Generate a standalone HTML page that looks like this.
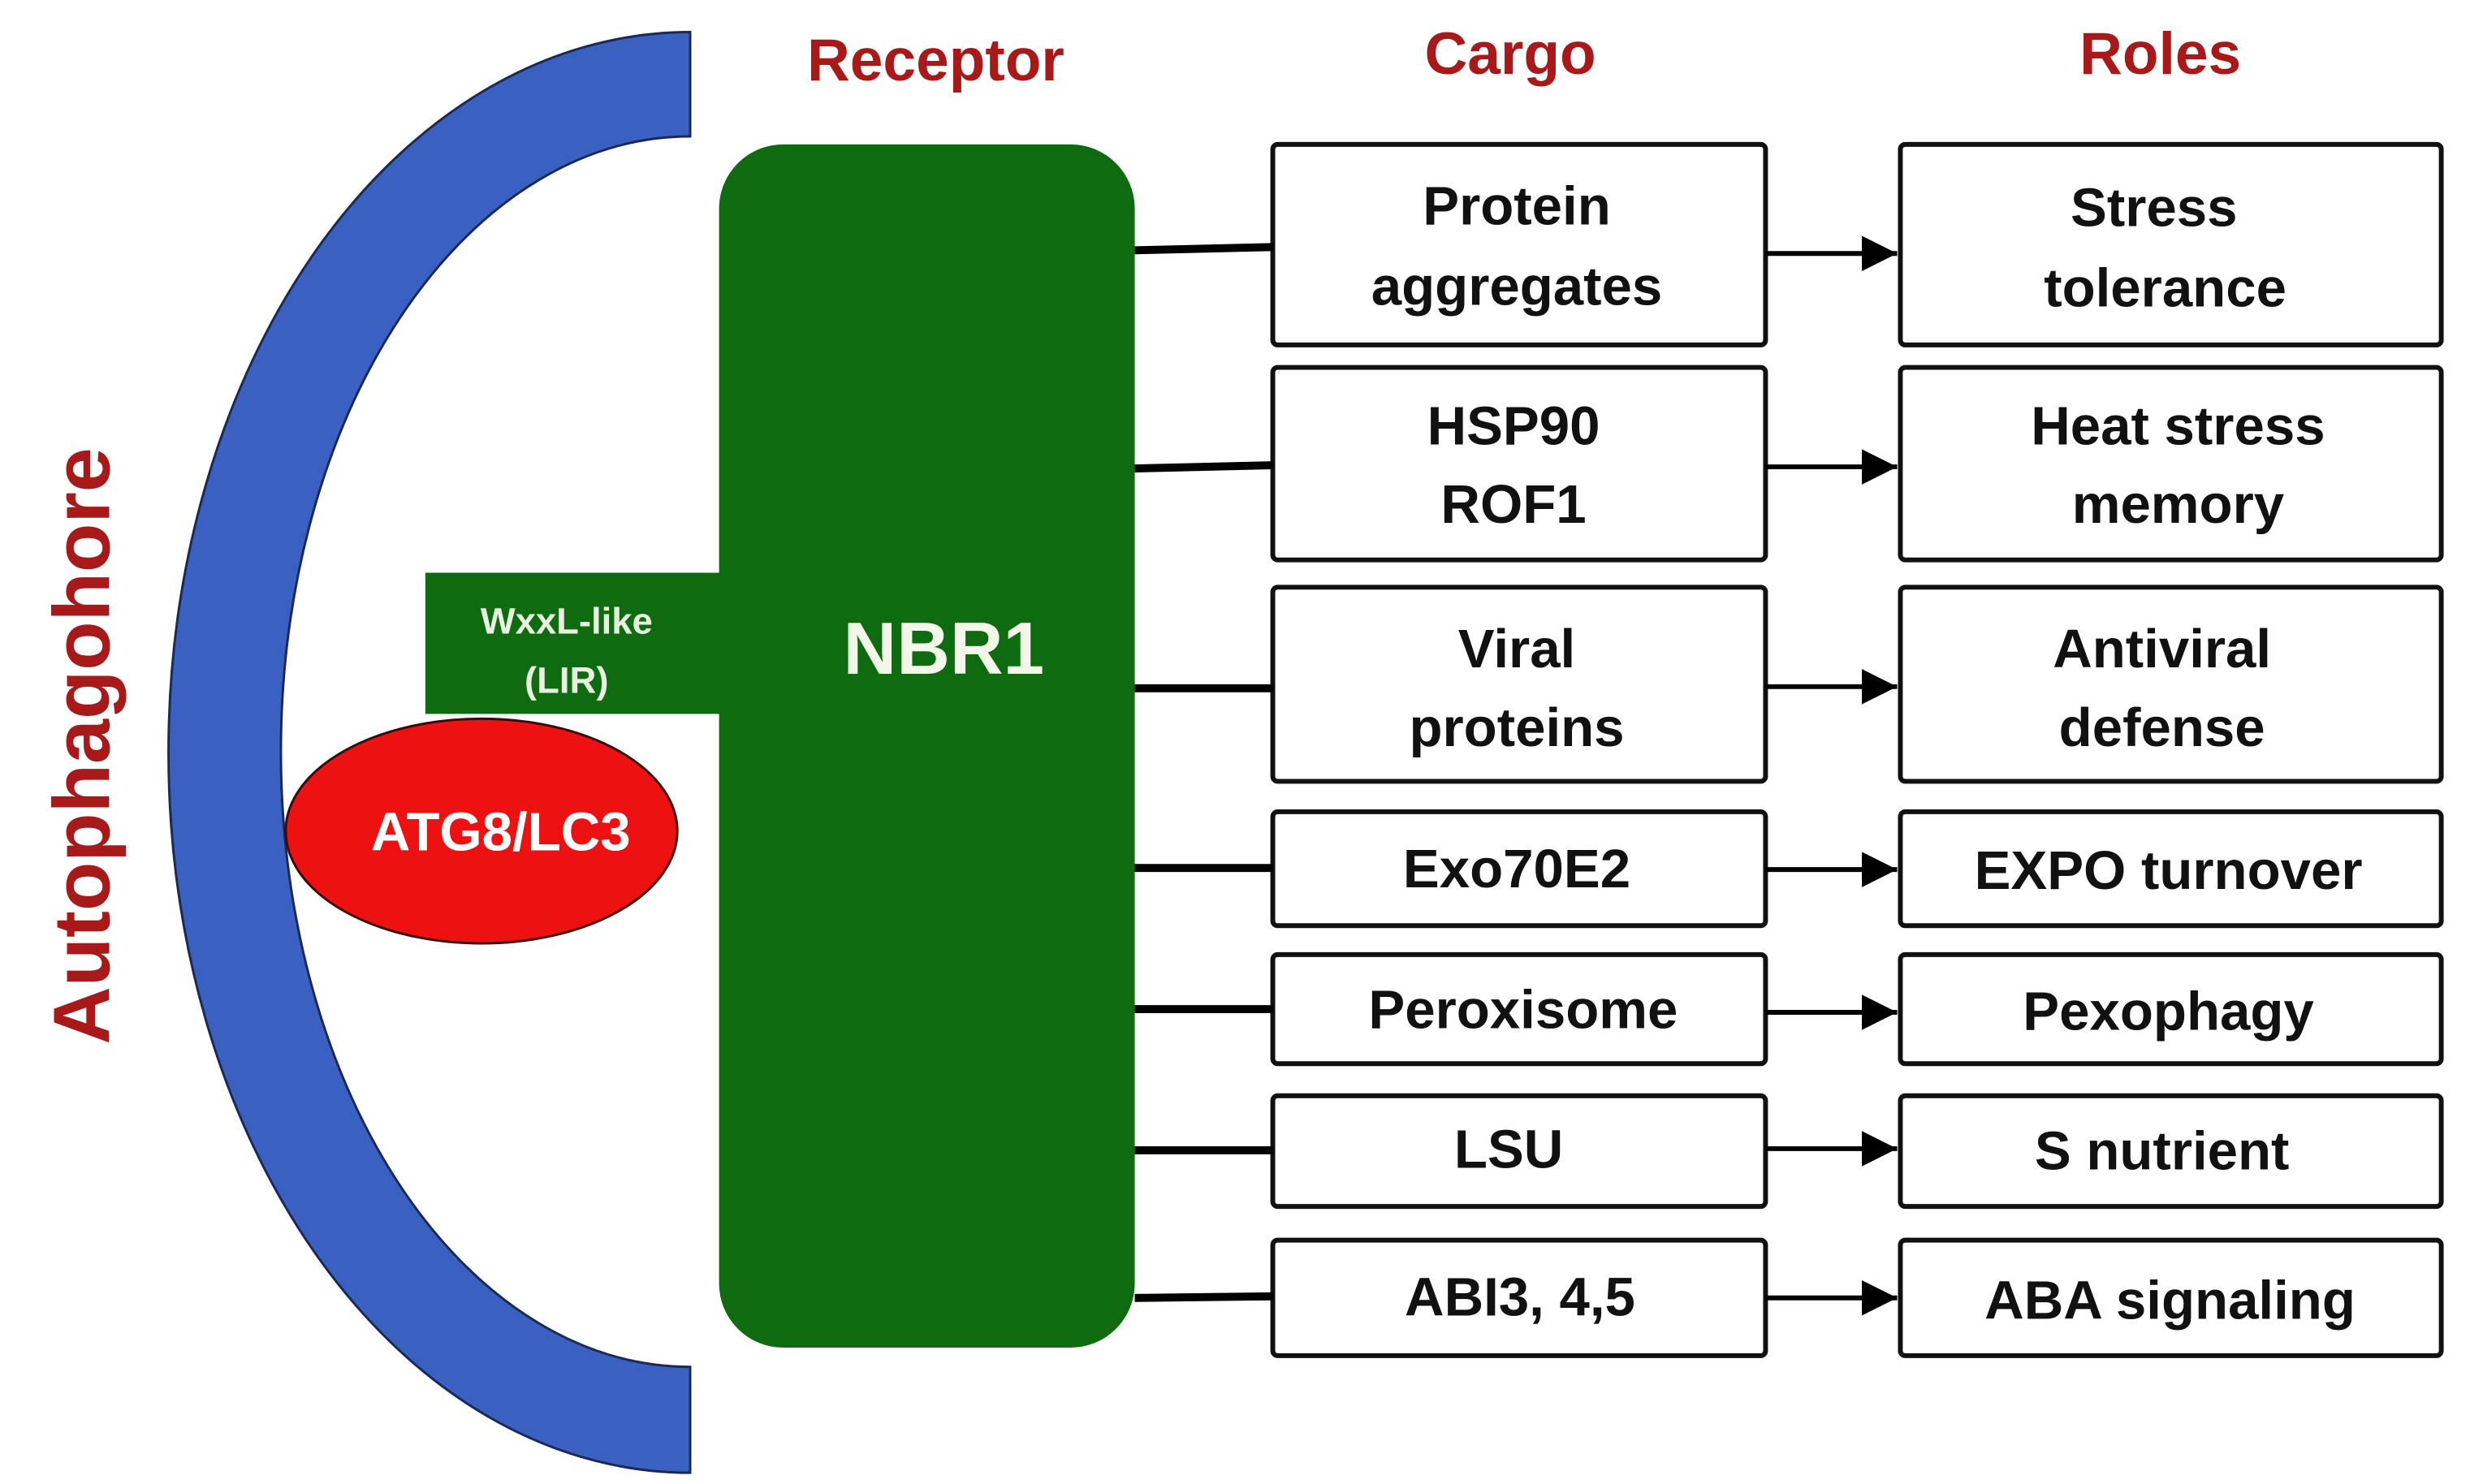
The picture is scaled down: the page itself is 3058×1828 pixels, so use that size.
<!DOCTYPE html>
<html><head><meta charset="utf-8"><style>html,body{margin:0;padding:0;background:#fff}svg{display:block}</style></head>
<body>
<svg width="3058" height="1828" viewBox="0 0 1547 925" preserveAspectRatio="none" xmlns="http://www.w3.org/2000/svg" font-family="Liberation Sans, Arial, sans-serif" font-weight="bold">
<defs><marker id="ah" markerWidth="10" markerHeight="10" refX="9" refY="5" orient="auto" markerUnits="userSpaceOnUse"><path d="M0,0 L24,5 L0,10 Z" transform="scale(0.42,1)"/></marker>
<marker id="a2" viewBox="0 0 10 10" refX="10" refY="5" markerWidth="24" markerHeight="22" markerUnits="userSpaceOnUse" orient="auto"><path d="M0,0 L10,5 L0,10 Z" fill="#000"/></marker></defs>
<path d="M430,20 A325,449 0 0 0 430,918 L430,852 A255,383.5 0 0 1 430,85 Z" fill="#3a60c2" stroke="#1a2a55" stroke-width="1.5"/>
<text transform="translate(68,465) rotate(-90)" text-anchor="middle" font-size="50" fill="#a81a1a">Autophagohore</text>
<rect x="265" y="357" width="200" height="88" fill="#0f6b0f"/>
<rect x="448" y="90" width="259" height="750" rx="40" fill="#0f6b0f"/>
<text x="353" y="395" text-anchor="middle" font-size="23" fill="#e8f0e0">WxxL-like</text>
<text x="353" y="432" text-anchor="middle" font-size="23" fill="#e8f0e0">(LIR)</text>
<text x="588" y="420" text-anchor="middle" font-size="46" fill="#f2f7ea">NBR1</text>
<ellipse cx="300" cy="518" rx="122" ry="70" fill="#ee1111" stroke="#3a0a0a" stroke-width="1.5"/>
<text x="312" y="530" text-anchor="middle" font-size="34" fill="#fff">ATG8/LC3</text>
<g font-size="37" fill="#a81a1a" text-anchor="middle">
<text x="583" y="50">Receptor</text><text x="941" y="46">Cargo</text><text x="1346" y="46">Roles</text></g>
<g fill="#fff" stroke="#111" stroke-width="3">
<rect x="793" y="90" width="307" height="125" rx="3"/><rect x="1184" y="90" width="337" height="125" rx="3"/>
<rect x="793" y="229" width="307" height="120" rx="3"/><rect x="1184" y="229" width="337" height="120" rx="3"/>
<rect x="793" y="366" width="307" height="121" rx="3"/><rect x="1184" y="366" width="337" height="121" rx="3"/>
<rect x="793" y="506" width="307" height="71" rx="3"/><rect x="1184" y="506" width="337" height="71" rx="3"/>
<rect x="793" y="595" width="307" height="68" rx="3"/><rect x="1184" y="595" width="337" height="68" rx="3"/>
<rect x="793" y="683" width="307" height="69" rx="3"/><rect x="1184" y="683" width="337" height="69" rx="3"/>
<rect x="793" y="773" width="307" height="72" rx="3"/><rect x="1184" y="773" width="337" height="72" rx="3"/>
</g>
<g stroke="#000" stroke-width="5">
<line x1="707" y1="156" x2="793" y2="154"/><line x1="707" y1="292" x2="793" y2="290"/>
<line x1="707" y1="429" x2="793" y2="429"/><line x1="707" y1="541" x2="793" y2="541"/>
<line x1="707" y1="629" x2="793" y2="629"/><line x1="707" y1="717" x2="793" y2="717"/>
<line x1="707" y1="809" x2="793" y2="808"/></g>
<g stroke="#000" stroke-width="3" marker-end="url(#a2)">
<line x1="1100" y1="158" x2="1182" y2="158"/><line x1="1100" y1="291" x2="1182" y2="291"/>
<line x1="1100" y1="428" x2="1182" y2="428"/><line x1="1100" y1="542" x2="1182" y2="542"/>
<line x1="1100" y1="631" x2="1182" y2="631"/><line x1="1100" y1="716" x2="1182" y2="716"/>
<line x1="1100" y1="809" x2="1182" y2="809"/></g>
<g font-size="34" fill="#111" text-anchor="middle">
<text x="945" y="140">Protein</text><text x="945" y="190">aggregates</text>
<text x="943" y="277">HSP90</text><text x="943" y="326">ROF1</text>
<text x="945" y="416">Viral</text><text x="945" y="465">proteins</text>
<text x="945" y="553">Exo70E2</text><text x="949" y="641">Peroxisome</text>
<text x="940" y="728">LSU</text><text x="947" y="820">ABI3, 4,5</text>
<text x="1342" y="141">Stress</text><text x="1349" y="191">tolerance</text>
<text x="1357" y="277">Heat stress</text><text x="1357" y="326">memory</text>
<text x="1347" y="416">Antiviral</text><text x="1347" y="465">defense</text>
<text x="1351" y="554">EXPO turnover</text><text x="1351" y="642">Pexophagy</text>
<text x="1347" y="729">S nutrient</text><text x="1352" y="822">ABA signaling</text>
</g>
</svg>
</body></html>
